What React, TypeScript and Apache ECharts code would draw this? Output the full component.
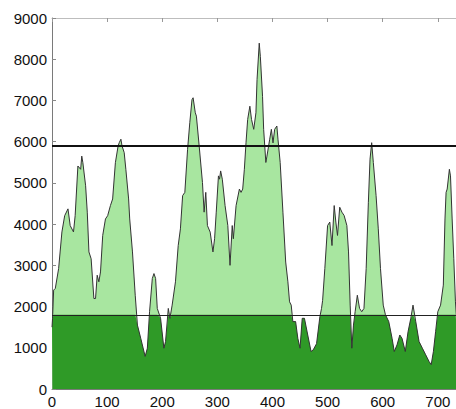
import React, { useEffect, useRef } from "react";
import * as echarts from "echarts";

const positions = [
  0, 1, 3, 6, 12, 18, 23, 29, 33, 39, 42, 47, 52, 54, 56, 61, 64, 67, 71, 76, 79, 82, 85, 88, 92, 97,
  101, 106, 110, 115, 120, 122, 125, 127, 131, 134, 139, 141, 146, 151, 155, 161, 169, 173, 177, 182,
  185, 188, 191, 197, 203, 206, 211, 214, 218, 224, 229, 233, 237, 241, 246, 250, 254, 256, 260, 262,
  267, 273, 276, 279, 282, 287, 292, 295, 298, 302, 304, 306, 309, 314, 319, 323, 327, 329, 334, 340,
  343, 346, 349, 352, 355, 359, 362, 366, 370, 372, 376, 378, 382, 384, 388, 390, 395, 398, 401, 404,
  408, 410, 414, 419, 424, 428, 431, 434, 437, 442, 446, 450, 454, 458, 464, 470, 474, 480, 486, 489,
  491, 495, 500, 504, 508, 512, 515, 518, 522, 526, 530, 535, 538, 541, 544, 547, 550, 554, 558, 562,
  566, 570, 574, 577, 580, 583, 588, 592, 596, 601, 605, 611, 617, 621, 626, 631, 635, 641, 646, 651,
  655, 660, 666, 672, 678, 684, 688, 692, 696, 700, 705, 710, 713, 715, 717, 721, 723, 726, 729, 732, 735,
];

const profile = [
  1500, 1715, 2400, 2440, 2920, 3810, 4205, 4370, 3965, 3810, 4205, 5410, 5330, 5650, 5490, 4930, 4290,
  3325, 3160, 2195, 2195, 2760, 2600, 2840, 3725, 4125, 4205, 4450, 4610, 5490, 5900, 5975, 6060, 5900,
  5735, 5330, 4610, 4125, 3325, 2275, 1550, 1230, 790, 990, 1875, 2680, 2800, 2680, 1955, 1715, 990,
  1150, 1955, 1715, 2035, 2600, 3480, 3885, 4690, 4770, 5815, 6460, 7020, 7065, 6700, 6620, 5900, 5010,
  4290, 4770, 3965, 3805, 3325, 3645, 4290, 5170, 5090, 5290, 5090, 4450, 3965, 3000, 3965, 3645, 4450,
  4850, 4770, 4850, 5330, 5975, 6540, 6860, 6540, 6300, 6700, 7505, 8390, 8070, 7100, 6300, 5495, 5650,
  6060, 6300, 5970, 6300, 6380, 6060, 5495, 4290, 3080, 2600, 2115, 2035, 1635, 1635, 1230, 990, 1715,
  1715, 1310, 910, 950, 1100, 1750, 1955, 2150, 2920, 3965, 4050, 3480, 4450, 4050, 3725, 4410, 4290,
  4210, 3965, 3325, 2035, 990, 1550, 1875, 2275, 1955, 1875, 1955, 2920, 4530, 5575, 5975, 5495, 4690,
  3885, 2920, 2035, 1800, 1635, 1230, 910, 1070, 1310, 1230, 910, 1390, 1715, 2035, 1635, 1150, 990, 830,
  670, 590, 910, 1390, 1875, 2035, 2520, 4125, 4770, 4850, 5330, 5170, 4125, 3160, 2115, 1500,
];

const upperThreshold = 5900;
const lowerThreshold = 1800;
const xTicks = [0, 100, 200, 300, 400, 500, 600, 700];
const yTicks = [0, 1000, 2000, 3000, 4000, 5000, 6000, 7000, 8000, 9000];

export default function App() {
  const ref = useRef<HTMLDivElement>(null);

  useEffect(() => {
    if (!ref.current) return;
    const chart = echarts.init(ref.current, null, { renderer: "svg" });
    const full = positions.map((x, i) => [x, profile[i]]);
    const low = positions.map((x, i) => [x, Math.min(profile[i], lowerThreshold)]);
    const font = "Liberation Sans, Arial, sans-serif";
    const plain = (v: number) => String(v);

    chart.setOption({
      animation: false,
      backgroundColor: "#ffffff",
      grid: { left: 52, top: 18, right: 0, bottom: 18 },
      xAxis: [
        {
          type: "value",
          min: 0,
          max: 733,
          interval: 100,
          axisLine: { show: true, lineStyle: { color: "#7a7a7a", width: 1 } },
          axisTick: { show: true, inside: true, length: 4, lineStyle: { color: "#888" } },
          axisLabel: {
            color: "#111",
            fontSize: 15,
            fontFamily: font,
            margin: 5,
            customValues: xTicks,
            formatter: plain,
          },
          splitLine: { show: false },
        },
        {
          type: "value",
          position: "top",
          min: 0,
          max: 733,
          interval: 100,
          axisLine: { show: true, lineStyle: { color: "#bdbdbd", width: 1 } },
          axisTick: { show: true, inside: true, length: 4, lineStyle: { color: "#999" } },
          axisLabel: { show: false },
          splitLine: { show: false },
        },
      ],
      yAxis: {
        type: "value",
        min: 0,
        max: 9000,
        interval: 1000,
        axisLine: { show: true, lineStyle: { color: "#7a7a7a", width: 1 } },
        axisTick: { show: true, inside: true, length: 4, lineStyle: { color: "#888" } },
        axisLabel: {
          color: "#111",
          fontSize: 15,
          fontFamily: font,
          margin: 5,
          customValues: yTicks,
          formatter: plain,
        },
        splitLine: { show: false },
      },
      series: [
        {
          type: "line",
          data: full,
          symbol: "none",
          lineStyle: { width: 0 },
          areaStyle: { color: "#a8e6a0", opacity: 1 },
          z: 1,
          silent: true,
        },
        {
          type: "line",
          data: low,
          symbol: "none",
          lineStyle: { width: 0 },
          areaStyle: { color: "#2f9a27", opacity: 1 },
          z: 2,
          silent: true,
        },
        {
          type: "line",
          data: full,
          symbol: "none",
          lineStyle: { color: "#333333", width: 1 },
          z: 3,
          silent: true,
          markLine: {
            silent: true,
            symbol: "none",
            label: { show: false },
            data: [
              { yAxis: upperThreshold, lineStyle: { color: "#111", width: 2, type: "solid" } },
              { yAxis: lowerThreshold, lineStyle: { color: "#222", width: 1.2, type: "solid" } },
            ],
          },
        },
      ],
    });

    return () => chart.dispose();
  }, []);

  return (
    <div
      ref={ref}
      style={{ position: "absolute", left: 0, top: 0, width: 456, height: 409 }}
    />
  );
}
